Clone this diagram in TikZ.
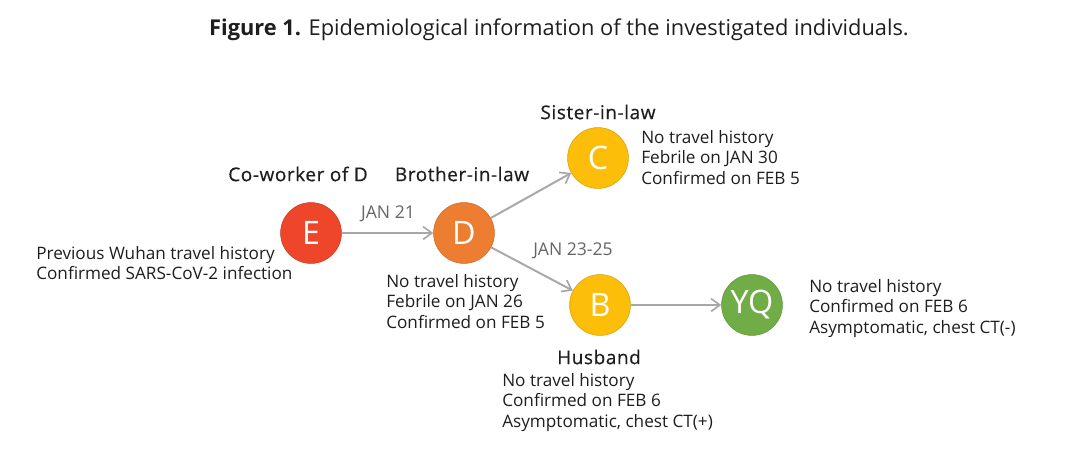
\documentclass[tikz,border=0pt]{standalone}
\usepackage{fontspec}
\setmainfont{Open Sans}
\usetikzlibrary{arrows.meta}
\definecolor{ered}{RGB}{238,70,42}
\definecolor{dorange}{RGB}{237,125,49}
\definecolor{cyellow}{RGB}{252,190,8}
\definecolor{ygreen}{RGB}{112,173,71}
\definecolor{linkgray}{RGB}{168,168,168}
\definecolor{txt}{RGB}{30,30,30}
\tikzset{
  person/.style={circle, minimum size=1.52cm, inner sep=0pt, draw=#1!85!black, line width=0.4pt, fill=#1,
    text=white, font=\fontsize{23}{25}\selectfont},
  role/.style={font=\fontsize{13.5}{15}\selectfont\addfontfeature{LetterSpace=3,FakeBold=0.5}, text=txt},
  info/.style={font=\fontsize{12.2}{14.6}\selectfont, text=txt, align=left, inner sep=0pt},
  date/.style={font=\fontsize{12.5}{14}\selectfont, text=black!60},
  link/.style={draw=linkgray, line width=1.4pt, -{Straight Barb[length=2.2mm,width=3.2mm,line width=1.2pt]}}
}
\begin{document}
\begin{tikzpicture}[x=0.025cm,y=-0.025cm]
\useasboundingbox[fill=white] (0,0) rectangle (1080,461);

% title
\node[font=\fontsize{15.5}{17}\selectfont, text=txt] (title) at (559,30) {\textbf{Figure 1.} Epidemiological information of the investigated individuals.};

% people
\node[person=ered]    (E)  at (311,233) {E};
\node[person=dorange] (D)  at (464,233) {D};
\node[person=cyellow] (C)  at (598,158) {C};
\node[person=cyellow] (B)  at (600,305) {B};
\node[person=ygreen]  (YQ) at (752,305) {YQ};

% roles
\node[role] (rE) at (298,174) {Co-worker of D};
\node[role] (rD) at (462,174) {Brother-in-law};
\node[role] (rC) at (598,112) {Sister-in-law};
\node[role] (rB) at (599,357) {Husband};

% details
\node[info, anchor=north west] (iE) at (36,246) {Previous Wuhan travel history\\Confirmed SARS-CoV-2 infection};
\node[info, anchor=north west] (iD) at (386,274) {No travel history\\Febrile on JAN 26\\Confirmed on FEB 5};
\node[info, anchor=north west] (iC) at (641,130) {No travel history\\Febrile on JAN 30\\Confirmed on FEB 5};
\node[info, anchor=north west] (iB) at (502,373) {No travel history\\Confirmed on FEB 6\\Asymptomatic, chest CT(+)};
\node[info, anchor=north west] (iY) at (809,279) {No travel history\\Confirmed on FEB 6\\Asymptomatic, chest CT(-)};

% transmission links
\draw[link] (E) -- (D);
\draw[link] (D) -- (C);
\draw[link] (D) -- (B);
\draw[link] (B) -- (YQ);

\node[date] (d1) at (388,214) {JAN 21};
\node[date] (d2) at (573,251) {JAN 23-25};
\end{tikzpicture}
\end{document}
